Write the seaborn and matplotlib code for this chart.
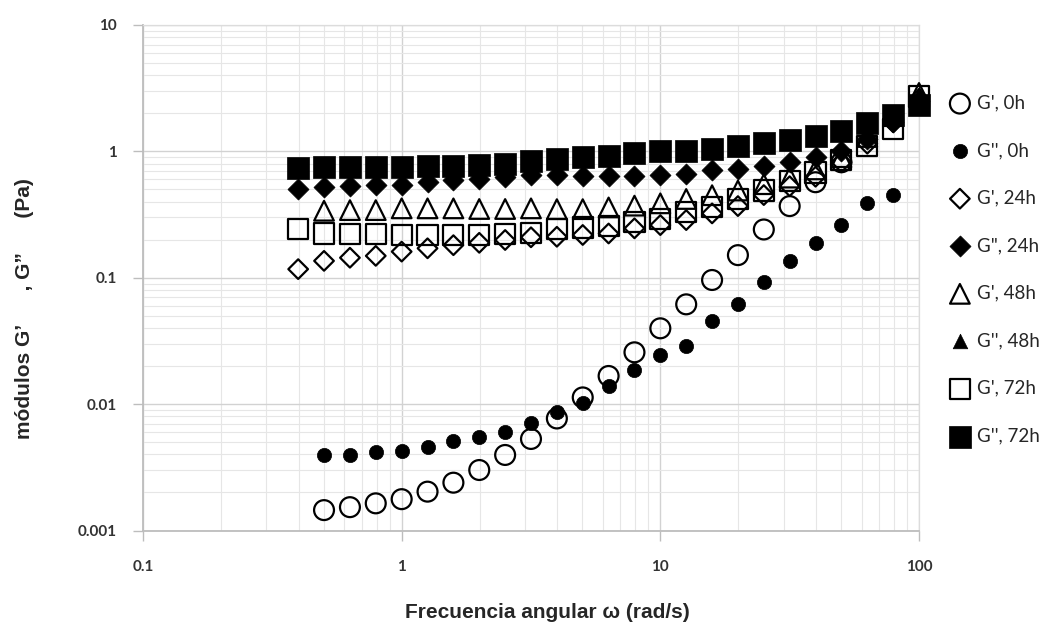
import matplotlib
matplotlib.use("Agg")
import matplotlib.pyplot as plt
from matplotlib.ticker import LogLocator, FixedLocator, FixedFormatter, NullFormatter
import seaborn as sns

# Angular frequency sweep, 10 points per decade (rad/s)
omega = [0.398, 0.501, 0.631, 0.794, 1.0, 1.259, 1.585, 1.995, 2.512, 3.162,
         3.981, 5.012, 6.31, 7.943, 10.0, 12.59, 15.85, 19.95, 25.12, 31.62,
         39.81, 50.12, 63.1, 79.43, 100.0]

# Storage modulus G' and loss modulus G'' (Pa) at each ageing time
g1_0h = [0.00145, 0.00153, 0.00164, 0.00177, 0.00203, 0.00239, 0.00301, 0.00396,
         0.0053, 0.0077, 0.0113, 0.0167, 0.0257, 0.0398, 0.0616, 0.096, 0.151,
         0.241, 0.369, 0.57, 0.82]
g2_0h = [0.00396, 0.00396, 0.00416, 0.00426, 0.0046, 0.0051, 0.00546, 0.00605,
         0.00705, 0.0087, 0.0103, 0.014, 0.0186, 0.0245, 0.029, 0.0454, 0.062,
         0.092, 0.1355, 0.187, 0.261, 0.392, 0.451]
g1_24h = [0.117, 0.136, 0.144, 0.149, 0.161, 0.171, 0.181, 0.189, 0.199, 0.209,
          0.211, 0.218, 0.224, 0.246, 0.261, 0.286, 0.323, 0.369, 0.451, 0.53,
          0.63, 0.82, 1.15, 1.7, 2.6]
g2_24h = [0.506, 0.519, 0.53, 0.541, 0.544, 0.57, 0.59, 0.61, 0.63, 0.65,
          0.65, 0.64, 0.64, 0.64, 0.65, 0.66, 0.71, 0.73, 0.76, 0.82,
          0.9, 1.0, 1.25, 1.7, 2.5]
g1_48h = [0.339, 0.343, 0.343, 0.354, 0.354, 0.354, 0.35, 0.35, 0.354,
          0.349, 0.349, 0.36, 0.372, 0.388, 0.42, 0.45, 0.49, 0.55, 0.62,
          0.72, 0.9, 1.3, 1.9, 2.9]
g2_48h = [0.80, 0.80, 0.80, 0.80, 0.79, 0.79, 0.80, 0.82, 0.86,
          0.88, 0.90, 0.93, 0.96, 0.98, 1.0, 1.03, 1.08, 1.13, 1.2,
          1.3, 1.42, 1.65, 2.0, 2.85]
g1_72h = [0.243, 0.224, 0.223, 0.221, 0.218, 0.218, 0.218, 0.218, 0.222, 0.226,
          0.243, 0.25, 0.258, 0.274, 0.29, 0.329, 0.365, 0.42, 0.49, 0.58,
          0.68, 0.85, 1.1, 1.5, 2.72]
g2_72h = [0.742, 0.755, 0.758, 0.758, 0.758, 0.765, 0.77, 0.78, 0.8, 0.846,
          0.87, 0.898, 0.927, 0.97, 1.0, 1.015, 1.046, 1.11, 1.16, 1.23,
          1.32, 1.45, 1.67, 1.94, 2.31]

labels = ["G', 0h", "G'', 0h", "G', 24h", 'G", 24h',
          "G', 48h", "G'', 48h", "G', 72h", "G'', 72h"]

x_ticks = [0.1, 1, 10, 100]
x_ticklabels = ["0.1", "1", "10", "100"]
y_ticks = [0.001, 0.01, 0.1, 1, 10]
y_ticklabels = ["0.001", "0.01", "0.1", "1", "10"]

sns.set_theme(style="white")
plt.rcParams["font.family"] = ["Liberation Sans", "DejaVu Sans"]

W, H = 1057, 627
fig = plt.figure(figsize=(W / 100, H / 100), dpi=100)
ax = fig.add_axes([143 / W, 1 - 530.5 / H, (919 - 143) / W, (530.5 - 25) / H])

# (omega, values, marker, size, filled, edge width)
series = [
    (omega[1:22], g1_0h, "o", 205, False, 1.6),
    (omega[1:24], g2_0h, "o", 105, True, 0.5),
    (omega, g1_24h, "D", 100, False, 1.6),
    (omega, g2_24h, "D", 115, True, 0.5),
    (omega[1:], g1_48h, "^", 200, False, 1.6),
    (omega[1:], g2_48h, "^", 110, True, 0.5),
    (omega, g1_72h, "s", 210, False, 1.6),
    (omega, g2_72h, "s", 235, True, 0.5),
]

for z, ((w, vals, mk, size, filled, lw), lab) in enumerate(zip(series, labels)):
    sns.scatterplot(x=w, y=vals, ax=ax, marker=mk, s=size,
                    facecolor="black" if filled else "none",
                    edgecolor="black", linewidth=lw, label=lab,
                    zorder=3 + z, clip_on=False)

ax.set_xscale("log")
ax.set_yscale("log")
ax.set_xlim(0.1, 100)
ax.set_ylim(0.001, 10)

ax.xaxis.set_major_locator(FixedLocator(x_ticks))
ax.xaxis.set_major_formatter(FixedFormatter(x_ticklabels))
ax.yaxis.set_major_locator(FixedLocator(y_ticks))
ax.yaxis.set_major_formatter(FixedFormatter(y_ticklabels))
ax.xaxis.set_minor_locator(LogLocator(base=10, subs=range(2, 10), numticks=20))
ax.yaxis.set_minor_locator(LogLocator(base=10, subs=range(2, 10), numticks=20))
ax.xaxis.set_minor_formatter(NullFormatter())
ax.yaxis.set_minor_formatter(NullFormatter())

ax.grid(True, which="major", color="#d2d2d2", linewidth=1.0)
ax.grid(True, which="minor", color="#e6e6e6", linewidth=0.8)
ax.set_axisbelow(True)

ax.tick_params(which="major", direction="out", length=7, width=1,
               color="#bdbdbd", left=True, bottom=True)
ax.tick_params(axis="y", which="major", pad=12)
ax.tick_params(axis="x", which="major", pad=14)
ax.tick_params(which="minor", length=0)
for lab in ax.get_xticklabels() + ax.get_yticklabels():
    lab.set_fontfamily(["Lato", "DejaVu Sans"])
    lab.set_fontweight("bold")
    lab.set_fontsize(11)
    lab.set_color("#333333")

for side in ("left", "bottom"):
    ax.spines[side].set_color("#bdbdbd")
    ax.spines[side].set_linewidth(1.3)
for side in ("top", "right"):
    ax.spines[side].set_color("#dcdcdc")
    ax.spines[side].set_linewidth(0.9)

ax.set_xlabel("")
ax.set_ylabel("")
ax.legend_.remove()
handles, leg_labels = ax.get_legend_handles_labels()
fig.legend(handles, leg_labels, loc="upper left",
           bbox_to_anchor=(943 / W, 1 - 87 / H), bbox_transform=fig.transFigure,
           frameon=False, labelspacing=1.63,
           handlelength=1.0, handletextpad=0.4, borderaxespad=0,
           prop={"family": ["Lato", "DejaVu Sans"], "size": 13.5})

fig.text(547 / W, 1 - 612 / H, "Frecuencia angular \u03c9 (rad/s)",
         ha="center", va="center", fontsize=15, fontweight="bold")
fig.text(25 / W, 1 - 309 / H, "m\u00f3dulos G\u2019      , G\u201d      (Pa)",
         ha="center", va="center", rotation=90, fontsize=15, fontweight="bold")

fig.savefig("out.png", dpi=100, facecolor="white")
